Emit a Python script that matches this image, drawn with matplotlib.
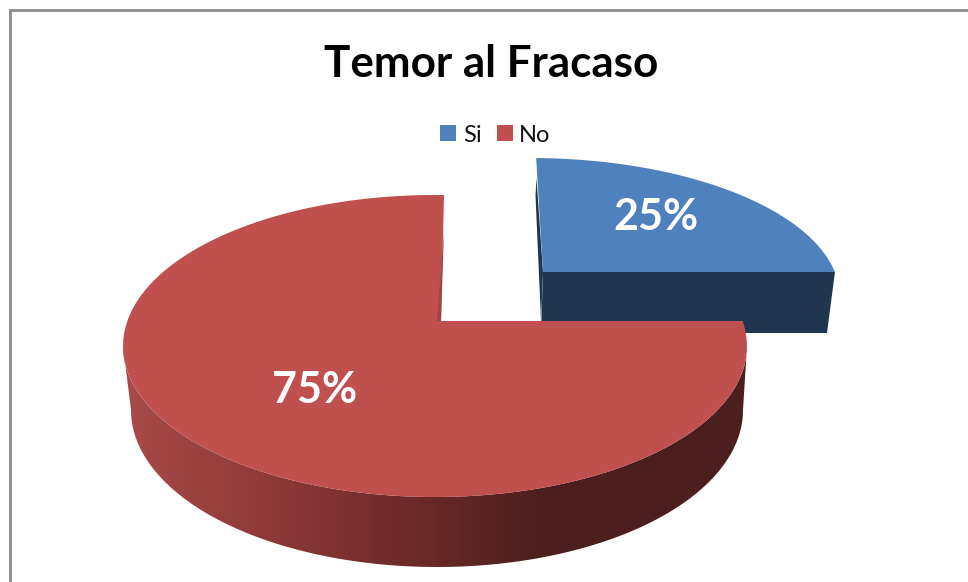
import numpy as np
import matplotlib
matplotlib.use('Agg')
import matplotlib.pyplot as plt
from matplotlib.colors import to_rgb
from matplotlib.patches import Patch, Polygon

title = 'Temor al Fracaso'
categories = ['Si', 'No']
values = [25, 75]
colors = ['#4F81BD', '#C0504D']

plt.rcParams['font.family'] = ['Lato', 'DejaVu Sans']

W, H = 968, 582
fig = plt.figure(figsize=(W / 100, H / 100), dpi=100)
ax = fig.add_axes([0, 0, 1, 1])


def rim(angles, apex, up, ellipse):
    # point where the ray from the slice apex meets the top ellipse
    cx, cy, rx, ry = ellipse
    pts = []
    for a in angles:
        dx = np.cos(a) + np.sin(a) * up[0]
        dy = np.sin(a) * up[1]
        ox, oy = (apex[0] - cx) / rx, (apex[1] - cy) / ry
        ux, uy = dx / rx, dy / ry
        A = ux * ux + uy * uy
        B = 2 * (ox * ux + oy * uy)
        C = ox * ox + oy * oy - 1
        s = (-B + np.sqrt(B * B - 4 * A * C)) / (2 * A)
        pts.append((apex[0] + s * dx, apex[1] + s * dy))
    return pts


# slice angles from the values, clockwise from 12 o'clock
total = sum(values)
a_si = np.radians(90)
a_split = a_si - 2 * np.pi * values[0] / total
a_end = a_split - 2 * np.pi * values[1] / total

# border, only top and left are in the picture
ax.plot([10, 10, W], [H, 10, 10], color='#8C8C8C', lw=2, solid_joinstyle='miter')

# blue slice
si_apex = (543, 272)
si_ell = (530, 297, 310, 139)
si_rim = rim(np.linspace(a_si, a_split, 60), si_apex, (-0.06, -1), si_ell)
ax.add_patch(Polygon([si_apex, si_rim[-1], (827, 333), (541, 333)], fc='#1F3550', ec='none'))
ax.add_patch(Polygon([(536.5, 178), si_apex, (541, 321), (535.5, 195)], fc='#1F3550', ec='none'))
ax.add_patch(Polygon([si_apex] + si_rim, fc=colors[0], ec='none'))

# red slice, side first with a left to right shading
no_apex = (441, 321)
no_ell = (435, 346, 312, 151)
low_ell = (437, 410, 306, 157)
t = np.linspace(np.pi, 0, 260)
top_side = np.column_stack([no_ell[0] + no_ell[2] * np.cos(t), no_ell[1] + no_ell[3] * np.sin(t)])
low_side = np.column_stack([low_ell[0] + low_ell[2] * np.cos(t), low_ell[1] + low_ell[3] * np.sin(t)])
side = Polygon(np.vstack([top_side, low_side[::-1]]), fc='none', ec='none')
ax.add_patch(side)
shade_x = [123, 250, 400, 540, 750]
shade_c = np.array([to_rgb(c) for c in ['#A84A48', '#923C3A', '#702B2A', '#4C1F1E', '#4C1F1E']])
xs = np.arange(120, 752)
grad = np.stack([np.interp(xs, shade_x, shade_c[:, k]) for k in range(3)], axis=-1)[None, :, :]
im = ax.imshow(grad, extent=(120, 752, 580, 340), aspect='auto', interpolation='bilinear')
im.set_clip_path(side)

no_rim = rim(np.linspace(a_split, a_end, 200), no_apex, (0.024, -1), no_ell)
ax.add_patch(Polygon([no_apex] + no_rim, fc=colors[1], ec='none'))
ax.add_patch(Polygon([(444, 230), no_apex, (437, 321)], fc='#A04543', ec='none'))

ax.set_xlim(0, W)
ax.set_ylim(H, 0)
ax.axis('off')

# texts
ax.text(491, 64, title, ha='center', va='center', fontsize=31.7, fontweight='bold', color='black')
ax.text(656, 217, f'{values[0]}%', ha='center', va='center', fontsize=31, fontweight='bold', color='white')
ax.text(315, 390, f'{values[1]}%', ha='center', va='center', fontsize=31, fontweight='bold', color='white')

handles = [Patch(fc=c, ec='none', label=n) for c, n in zip(colors, categories)]
ax.legend(handles=handles, loc='center', bbox_to_anchor=(495.5 / W, 1 - 135 / H), ncol=2, frameon=False,
          fontsize=17, handlelength=0.68, handleheight=0.68, handletextpad=0.28, columnspacing=0.64,
          labelcolor='#111111')

fig.savefig('out.png', dpi=100)
